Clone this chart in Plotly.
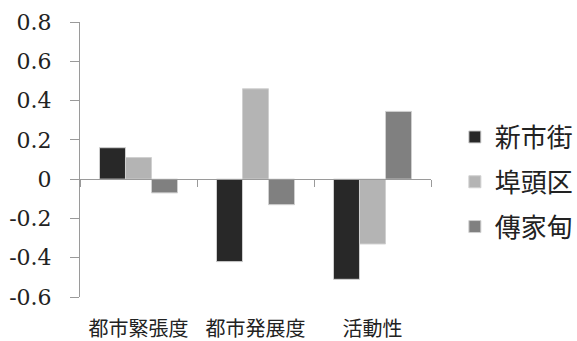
import plotly.graph_objects as go

categories = ["都市緊張度", "都市発展度", "活動性"]
series_names = ["新市街", "埠頭区", "傳家甸"]
series_values = {
    "新市街": [0.16, -0.42, -0.51],
    "埠頭区": [0.11, 0.46, -0.33],
    "傳家甸": [-0.07, -0.13, 0.345],
}
colors = {"新市街": "#282828", "埠頭区": "#b4b4b4", "傳家甸": "#808080"}
y_ticks = [0.8, 0.6, 0.4, 0.2, 0, -0.2, -0.4, -0.6]
y_ticktext = ["0.8", "0.6", "0.4", "0.2", "0", "-0.2", "-0.4", "-0.6"]
y_range = [-0.6, 0.8]

fig = go.Figure()
for i, name in enumerate(series_names):
    fig.add_trace(go.Bar(
        x=categories, y=series_values[name], name=name,
        marker=dict(color=colors[name], line=dict(color="#d0d0d0", width=1)),
        legendgroup="g%d" % i,
    ))

# invisible trace to host the category-boundary axis
fig.add_trace(go.Scatter(x=[-0.5, 2.5], y=[0, 0], xaxis="x2", mode="lines",
                         line=dict(width=0), showlegend=False, hoverinfo="skip"))

dom = [0.0, 1.0]
zero_pos = dom[0] + (0 - y_range[0]) / (y_range[1] - y_range[0]) * (dom[1] - dom[0])

axis_gray = "#9a9a9a"
fig.update_layout(
    width=577, height=341,
    margin=dict(l=80, r=146, t=22, b=44, autoexpand=False),
    paper_bgcolor="white", plot_bgcolor="white",
    barmode="group", bargap=0.333, bargroupgap=0,
    showlegend=True,
    legend=dict(x=1.068, xanchor="left", y=0.418, yanchor="middle",
                xref="paper", font=dict(family="Noto Sans CJK JP", size=26, color="#222"),
                tracegroupgap=8, itemwidth=30),
    xaxis=dict(
        type="category", range=[-0.5, 2.5], showline=False, showgrid=False,
        zeroline=False, ticks="outside", ticklen=14, tickcolor="rgba(0,0,0,0)",
        automargin=False,
        tickfont=dict(family="Noto Sans CJK JP", size=20, color="#222"),
    ),
    xaxis2=dict(
        overlaying="x", anchor="free", position=zero_pos, range=[-0.5, 2.5],
        showline=True, linecolor=axis_gray, linewidth=1, automargin=False,
        tickvals=[-0.5, 0.5, 1.5, 2.5], ticks="outside", ticklen=7,
        tickcolor=axis_gray, showticklabels=False, showgrid=False, zeroline=False,
    ),
    yaxis=dict(
        range=y_range, domain=dom, tickvals=y_ticks, ticktext=y_ticktext,
        showline=True, linecolor=axis_gray, linewidth=1, showgrid=False,
        zeroline=False, ticks="outside", ticklen=9, tickcolor=axis_gray,
        ticklabelstandoff=14, automargin=False,
        tickfont=dict(family="DejaVu Serif", size=22, color="#222"),
    ),
)

fig.write_html("out.html")
